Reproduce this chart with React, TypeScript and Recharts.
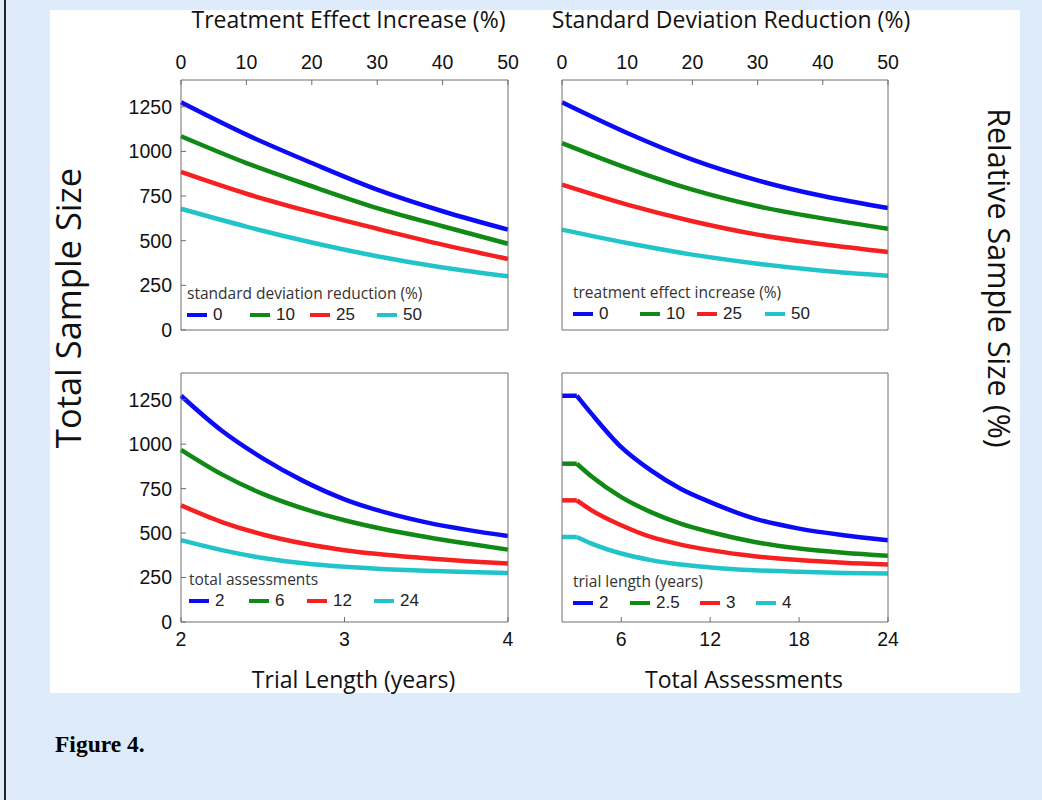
import React from 'react';
import { LineChart, Line, XAxis, YAxis, Legend } from 'recharts';

const COLORS = ['#0b0bf5', '#108a14', '#f52121', '#20c4c9'];

// top left: total sample size against treatment effect increase (%), per sd reduction
const teIncrease = [0, 10, 20, 30, 40, 50];
const sdReductionNames = ['0', '10', '25', '50'];
const tlSd0 = [1275, 1094, 935, 786, 665, 562];
const tlSd10 = [1085, 935, 805, 683, 581, 483];
const tlSd25 = [885, 763, 660, 567, 478, 398];
const tlSd50 = [679, 579, 490, 413, 350, 301];

// top right: against standard deviation reduction (%), per treatment effect increase
const sdReduction = [0, 10, 20, 30, 40, 50];
const teIncreaseNames = ['0', '10', '25', '50'];
const trTe0 = [1275, 1103, 954, 838, 750, 683];
const trTe10 = [1047, 907, 786, 693, 625, 567];
const trTe25 = [814, 702, 609, 534, 480, 437];
const trTe50 = [562, 487, 422, 371, 332, 304];

// bottom left: against trial length (years), per total assessments
const trialYears = [2, 2.25, 2.5, 2.75, 3, 3.25, 3.5, 3.75, 4];
const assessmentNames = ['2', '6', '12', '24'];
const blA2 = [1272, 1075, 920, 792, 690, 616, 560, 518, 484];
const blA6 = [968, 830, 720, 637, 572, 520, 478, 441, 407];
const blA12 = [656, 562, 492, 441, 404, 378, 358, 342, 329];
const blA24 = [460, 404, 360, 330, 310, 297, 288, 281, 276];

// bottom right: against total assessments, per trial length (years)
const assessments = [2, 3, 4, 6, 8, 10, 12, 15, 18, 21, 24];
const yearNames = ['2', '2.5', '3', '4'];
const brY2 = [1272, 1272, 1170, 983, 852, 749, 674, 581, 525, 488, 460];
const brY25 = [890, 890, 818, 702, 618, 553, 506, 450, 413, 389, 372];
const brY3 = [684, 684, 628, 544, 478, 435, 404, 370, 348, 333, 323];
const brY4 = [478, 478, 441, 385, 348, 323, 307, 291, 282, 276, 273];

const pctTicks = [0, 10, 20, 30, 40, 50];
const yearTicks = [2, 3, 4];
const assessTicks = [6, 12, 18, 24];
const sizeTicks = [0, 250, 500, 750, 1000, 1250];
const relTicks = [0, 25, 50, 75, 100];
const SIZE_MAX = 1400;
const FULL_SIZE = 1280; // the sample size that counts as 100 %

const AXIS = '#6e6e6e';
const tickFont = { fontSize: 19.5, fontFamily: 'Liberation Sans, Arial, sans-serif', fill: '#111' };
const titleFont = 'Open Sans, sans-serif';

// flatUntil: the curves are flat up to that x and bend sharply there, so that part is its own line
const buildRows = (xs: number[], series: number[][], flatUntil?: number) =>
  xs.map((x, i) => {
    const row: Record<string, number | null> = { x };
    series.forEach((s, j) => {
      if (flatUntil === undefined) {
        row['s' + j] = s[i];
      } else {
        row['s' + j] = x >= flatUntil ? s[i] : null;
        row['f' + j] = x <= flatUntil ? s[i] : null;
      }
    });
    return row;
  });

type PanelProps = {
  box: { x: number; y: number; w: number; h: number };
  xs: number[];
  series: number[][];
  names: string[];
  xDomain: [number, number];
  xTicks: number[];
  topTitle?: string;
  bottomTitle?: string;
  titleDx?: number;
  leftLabels: boolean;
  rightLabels: boolean;
  legendTitle: string;
  legendPos: { x: number; y: number };
  itemWidths: number[];
  flatUntil?: number;
};

const Panel: React.FC<PanelProps> = ({ box, xs, series, names, xDomain, xTicks, topTitle, bottomTitle, titleDx = 0, leftLabels, rightLabels, legendTitle, legendPos, itemWidths, flatUntil }) => {
  const T = topTitle ? box.y : 12;
  const B = bottomTitle ? 75 : 12;
  const side = 60;
  const left = box.x - side;
  const top = box.y - T;
  const data = buildRows(xs, series, flatUntil);

  const renderLegend = (props: any) => {
    const items = (props.payload || []).filter((p: any) => String(p.dataKey).startsWith('s'));
    return (
      <div style={{ fontFamily: titleFont, color: '#333' }}>
        <div style={{ fontSize: 15.5, lineHeight: '18px', whiteSpace: 'nowrap' }}>{legendTitle}</div>
        <div style={{ display: 'flex', height: 22, alignItems: 'center', marginTop: 2 }}>
          {items.map((p: any, i: number) => (
            <div key={i} style={{ display: 'flex', alignItems: 'center', width: itemWidths[i] }}>
              <span style={{ display: 'inline-block', width: 20, height: 4.5, background: p.color, marginRight: 6 }} />
              <span style={{ fontFamily: 'Liberation Sans, Arial, sans-serif', fontSize: 17, color: '#222' }}>{p.value}</span>
            </div>
          ))}
        </div>
      </div>
    );
  };

  const titleStyle = { fontSize: 23, fontFamily: titleFont, fill: '#111', dx: titleDx };

  return (
    <div style={{ position: 'absolute', left, top }}>
      <LineChart width={box.w + 2 * side} height={box.h + T + B} data={data} margin={{ top: 0, right: 0, bottom: 0, left: 0 }}>
        <XAxis
          xAxisId="bottom"
          orientation="bottom"
          type="number"
          dataKey="x"
          domain={xDomain}
          ticks={xTicks}
          interval={0}
          height={B}
          tickSize={-5}
          tickMargin={15}
          stroke={AXIS}
          tick={bottomTitle ? tickFont : false}
          label={bottomTitle ? { value: bottomTitle, position: 'insideBottom', offset: 9, ...titleStyle } : undefined}
        />
        <XAxis
          xAxisId="top"
          orientation="top"
          type="number"
          dataKey="x"
          domain={xDomain}
          ticks={xTicks}
          interval={0}
          height={T}
          tickSize={-5}
          tickMargin={16}
          stroke={AXIS}
          tick={topTitle ? tickFont : false}
          label={topTitle ? { value: topTitle, position: 'insideTop', offset: 12, ...titleStyle } : undefined}
        />
        <YAxis
          yAxisId="size"
          orientation="left"
          type="number"
          domain={[0, SIZE_MAX]}
          ticks={sizeTicks}
          interval={0}
          width={side}
          tickSize={-5}
          tickMargin={14}
          stroke={AXIS}
          tick={leftLabels ? tickFont : false}
        />
        <YAxis
          yAxisId="rel"
          orientation="right"
          type="number"
          domain={[0, (SIZE_MAX / FULL_SIZE) * 100]}
          ticks={relTicks}
          interval={0}
          width={side}
          tickSize={-5}
          tickMargin={17}
          stroke={AXIS}
          tick={rightLabels ? tickFont : false}
        />
        <Legend
          layout="horizontal"
          align="center"
          verticalAlign="middle"
          itemSorter="dataKey"
          content={renderLegend}
          wrapperStyle={{ left: legendPos.x - left, top: legendPos.y - top, width: 'auto', height: 'auto' }}
        />
        {flatUntil !== undefined &&
          series.map((_, j) => (
            <Line
              key={'f' + j}
              xAxisId="bottom"
              yAxisId="size"
              type="linear"
              dataKey={'f' + j}
              stroke={COLORS[j]}
              strokeWidth={4.5}
              dot={false}
              legendType="none"
              isAnimationActive={false}
            />
          ))}
        {series.map((_, j) => (
          <Line
            key={j}
            xAxisId="bottom"
            yAxisId="size"
            type="monotone"
            dataKey={'s' + j}
            name={names[j]}
            stroke={COLORS[j]}
            strokeWidth={4.5}
            dot={false}
            isAnimationActive={false}
          />
        ))}
      </LineChart>
    </div>
  );
};

const App: React.FC = () => (
  <div style={{ position: 'absolute', left: 0, top: 0, width: 1042, height: 800, background: '#ddebfb', overflow: 'hidden' }}>
    <div style={{ position: 'absolute', left: 4, top: 0, width: 2, height: 800, background: '#222' }} />
    <div style={{ position: 'absolute', left: 50, top: 10, width: 970, height: 683, background: '#fff' }} />
    <Panel
      box={{ x: 181, y: 80, w: 327, h: 250 }}
      xs={teIncrease}
      series={[tlSd0, tlSd10, tlSd25, tlSd50]}
      names={sdReductionNames}
      xDomain={[0, 50]}
      xTicks={pctTicks}
      topTitle="Treatment Effect Increase (%)"
      titleDx={4}
      leftLabels
      rightLabels={false}
      legendTitle="standard deviation reduction (%)"
      legendPos={{ x: 187, y: 284 }}
      itemWidths={[63, 60, 67, 60]}
    />
    <Panel
      box={{ x: 562, y: 80, w: 326, h: 250 }}
      xs={sdReduction}
      series={[trTe0, trTe10, trTe25, trTe50]}
      names={teIncreaseNames}
      xDomain={[0, 50]}
      xTicks={pctTicks}
      topTitle="Standard Deviation Reduction (%)"
      titleDx={6}
      leftLabels={false}
      rightLabels
      legendTitle="treatment effect increase (%)"
      legendPos={{ x: 573, y: 283 }}
      itemWidths={[67, 57, 68, 60]}
    />
    <Panel
      box={{ x: 181, y: 373, w: 327, h: 249 }}
      xs={trialYears}
      series={[blA2, blA6, blA12, blA24]}
      names={assessmentNames}
      xDomain={[2, 4]}
      xTicks={yearTicks}
      bottomTitle="Trial Length (years)"
      titleDx={9}
      leftLabels
      rightLabels={false}
      legendTitle="total assessments"
      legendPos={{ x: 189, y: 570 }}
      itemWidths={[60, 58, 67, 60]}
    />
    <Panel
      box={{ x: 562, y: 373, w: 326, h: 249 }}
      xs={assessments}
      series={[brY2, brY25, brY3, brY4]}
      names={yearNames}
      xDomain={[2, 24]}
      xTicks={assessTicks}
      bottomTitle="Total Assessments"
      titleDx={19}
      leftLabels={false}
      rightLabels
      legendTitle="trial length (years)"
      legendPos={{ x: 573, y: 572 }}
      itemWidths={[57, 70, 56, 60]}
      flatUntil={3}
    />
    <div style={{ position: 'absolute', left: 67, top: 308, transform: 'translate(-50%, -50%) rotate(-90deg)', fontFamily: titleFont, fontSize: 34.5, color: '#111', whiteSpace: 'nowrap' }}>
      Total Sample Size
    </div>
    <div style={{ position: 'absolute', left: 1000, top: 278, transform: 'translate(-50%, -50%) rotate(90deg)', fontFamily: titleFont, fontSize: 30.5, color: '#111', whiteSpace: 'nowrap' }}>
      Relative Sample Size (%)
    </div>
    <div style={{ position: 'absolute', left: 55, top: 731, fontFamily: 'Liberation Serif, Times New Roman, serif', fontWeight: 'bold', fontSize: 23.5, color: '#000' }}>
      Figure 4.
    </div>
  </div>
);

export default App;
